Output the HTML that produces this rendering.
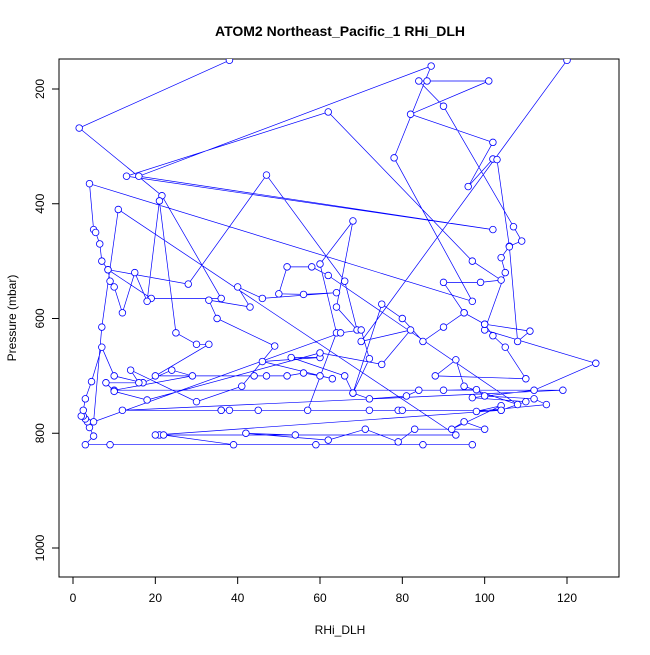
<!DOCTYPE html>
<html><head><meta charset="utf-8"><style>
body{margin:0;background:#fff}
svg text{font-family:"Liberation Sans",sans-serif}
</style></head><body>
<svg id="chart" width="650" height="650" xmlns="http://www.w3.org/2000/svg">
<defs><clipPath id="pc"><rect x="59" y="59" width="560" height="518"/></clipPath></defs>
<text x="340" y="36" text-anchor="middle" font-size="14" font-weight="bold">ATOM2 Northeast_Pacific_1 RHi_DLH</text>
<text x="340" y="634" text-anchor="middle" font-size="12">RHi_DLH</text>
<text transform="translate(16,318) rotate(-90)" text-anchor="middle" font-size="12">Pressure (mbar)</text>
<rect x="59" y="59" width="560" height="518" fill="none" stroke="#000"/>
<g id="axes"></g>
<g id="series" clip-path="url(#pc)"></g>
</svg>
<script>
const xTicks=[0,20,40,60,80,100,120];
const yTicks=[200,400,600,800,1000];
const rhi=[38,1.5,21.6,36,19,8.5,28,47,66,69,64,68,60,64,57,45,38,36,72,79,80,104,110,97,112,127,100,105,104,106,109,107,90,84,86,101,82,102,96,102,103,106,108,111,100,95,90,99,104,97,62,13,102,16,87,78,97,
4,5,5.5,6.5,7,8.5,9,10,12,15,18,21,25,30,33,20,44,47,52,56,60,63,46,60,53,66,68,72,81,84,90,98,100,112,115,98,104,92,95,100,83,79,71,62,42,54,21,22,39,59,85,97,9,3,
5,4,3.5,3,2.5,2,2.5,3,4.5,7,10,17,24,29,10,119,12,36,104,20,93,11,7,5,
65,70,72,68,75,80,85,90,95,100,102,105,110,88,93,95,108,62,58,52,50,56,64,46,40,43,33,35,49,41,30,14,16,8,10,18,60,75,82,70,120];
const pres=[150,268,386,565,565,515,540,350,535,620,580,430,505,625,760,760,760,760,760,760,760,760,745,738,725,678,620,520,494,474,465,440,230,186,186,186,244,293,370,322,323,475,640,622,610,590,537,537,533,500,240,352,445,352,160,320,570,
365,445,450,470,500,515,535,545,590,520,570,395,625,645,645,700,700,700,700,695,700,705,675,668,668,700,730,740,735,725,725,724,735,740,750,762,752,793,780,793,793,815,793,812,800,803,803,803,820,820,820,820,820,820,
805,790,780,775,770,770,760,740,710,650,700,712,690,700,725,725,760,760,760,803,803,410,615,780,
625,620,670,730,575,600,640,615,590,610,630,650,705,700,672,718,750,525,510,510,557,558,555,565,545,580,568,600,648,718,745,690,712,712,727,742,660,680,620,640,150];
const xs=v=>73+(v-0)*(567-73)/120;
const ys=v=>89+(v-200)*(548-89)/800;
const NS="http://www.w3.org/2000/svg";
const ax=document.getElementById('axes');
function mk(tag,attrs,parent){const e=document.createElementNS(NS,tag);for(const k in attrs)e.setAttribute(k,attrs[k]);parent.appendChild(e);return e;}
mk('line',{x1:xs(0),x2:xs(120),y1:577,y2:577,stroke:'#000'},ax);
mk('line',{x1:59,x2:59,y1:ys(200),y2:ys(1000),stroke:'#000'},ax);
xTicks.forEach(t=>{
  const l=mk('line',{x1:xs(t),x2:xs(t),y1:577,y2:584,stroke:'#000'},ax);
  
  
  const tx=mk('text',{x:xs(t),y:602,'text-anchor':'middle','font-size':12},ax);
  tx.textContent=t;
  
  
});
yTicks.forEach(t=>{
  const l=mk('line',{x1:52,x2:59,y1:ys(t),y2:ys(t),stroke:'#000'},ax);
  
  
  const tx=mk('text',{transform:`translate(44,${ys(t)}) rotate(-90)`,'text-anchor':'middle','font-size':12},ax);
  tx.textContent=t;
  
  
});
const g=document.getElementById('series');
const pts=rhi.map((v,i)=>xs(v).toFixed(1)+','+ys(pres[i]).toFixed(1)).join(' ');
const pl=mk('polyline',{points:pts,fill:'none',stroke:'#0000ff','stroke-width':0.7},g);


rhi.forEach((v,i)=>{
  const c=mk('circle',{cx:xs(v),cy:ys(pres[i]),r:3.3,fill:'#fff',stroke:'#0000ff','stroke-width':0.8},g);
  
  
});
</script>
</body></html>
